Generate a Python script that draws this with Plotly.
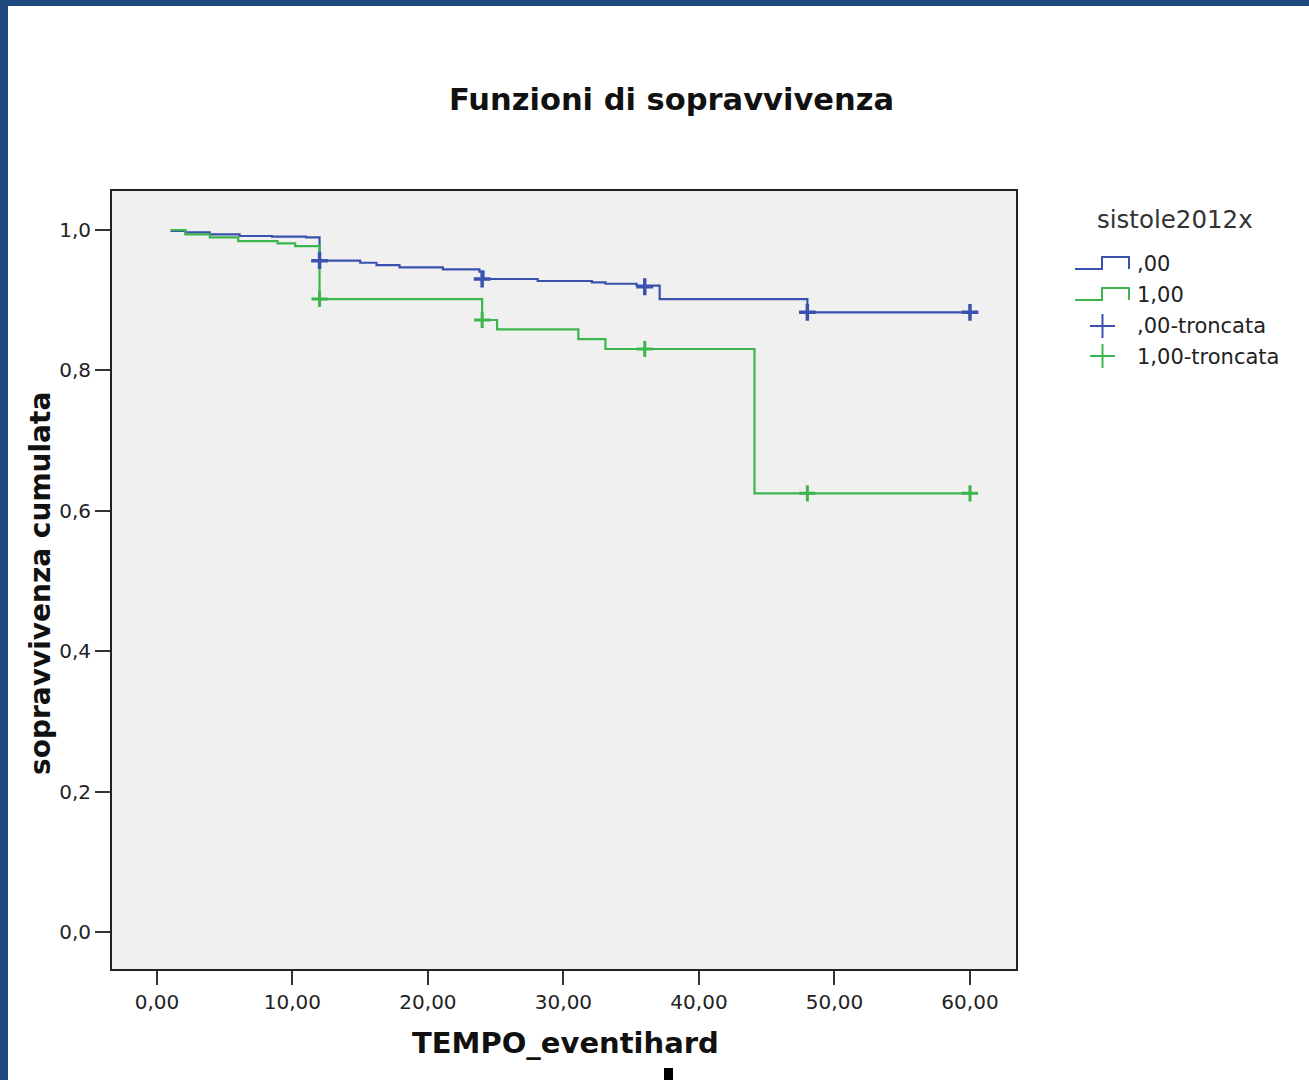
import plotly.graph_objects as go

# ---- data ----
blue_time = [1.0, 2.1, 3.9, 6.1, 8.5, 11.0, 12.0, 15.0, 16.2, 17.9, 21.1, 23.8, 24.1, 28.1, 32.1, 33.1, 35.4, 37.1, 48.0, 60.0]
blue_surv = [0.9986, 0.9967, 0.9939, 0.9915, 0.9905, 0.9896, 0.9563, 0.9534, 0.9501, 0.9469, 0.9440, 0.9406, 0.9302, 0.9274, 0.9255, 0.9235, 0.9207, 0.9017, 0.8828, 0.8828]

green_time = [1.0, 2.1, 3.9, 6.0, 8.9, 10.2, 12.0, 24.0, 25.1, 31.1, 33.1, 44.1, 60.0]
green_surv = [1.0, 0.9939, 0.9896, 0.9843, 0.9811, 0.9772, 0.9017, 0.8718, 0.8585, 0.8447, 0.8305, 0.6249, 0.6249]

blue_cens_time = [12.0, 24.0, 36.0, 48.0, 60.0]
blue_cens_surv = [0.9563, 0.9302, 0.9192, 0.8828, 0.8828]
green_cens_time = [12.0, 24.0, 36.0, 48.0, 60.0]
green_cens_surv = [0.9017, 0.8718, 0.8305, 0.6249, 0.6249]

x_ticks = [0, 10, 20, 30, 40, 50, 60]
x_ticklabels = ["0,00", "10,00", "20,00", "30,00", "40,00", "50,00", "60,00"]
y_ticks = [0.0, 0.2, 0.4, 0.6, 0.8, 1.0]
y_ticklabels = ["0,0", "0,2", "0,4", "0,6", "0,8", "1,0"]

legend_title = "sistole2012x"
legend_labels = [",00", "1,00", ",00-troncata", "1,00-troncata"]

BLUE = "#3a52ad"
GREEN = "#3cb64c"
W, H = 1309, 1080
L, R, T, B = 111, 1017, 190, 970  # plot area in pixels


def px(x):
    return (x - L) / (R - L)


def py(y):
    return (B - y) / (B - T)


fig = go.Figure()
fig.add_trace(go.Scatter(x=blue_time, y=blue_surv, mode="lines", line=dict(color=BLUE, width=2.2, shape="hv"),
                         showlegend=False, hoverinfo="skip"))
fig.add_trace(go.Scatter(x=green_time, y=green_surv, mode="lines", line=dict(color=GREEN, width=2.2, shape="hv"),
                         showlegend=False, hoverinfo="skip"))
fig.add_trace(go.Scatter(x=blue_cens_time, y=blue_cens_surv, mode="markers",
                         marker=dict(symbol="cross-thin", size=12, line=dict(color=BLUE, width=3.5)),
                         showlegend=False, hoverinfo="skip"))
fig.add_trace(go.Scatter(x=green_cens_time, y=green_cens_surv, mode="markers",
                         marker=dict(symbol="cross-thin", size=11.5, line=dict(color=GREEN, width=3)),
                         showlegend=False, hoverinfo="skip"))

shapes = []
# outer blue frame
shapes.append(dict(type="rect", xref="paper", yref="paper", x0=px(0), x1=px(W), y0=py(0), y1=py(6),
                   fillcolor="#1f497d", line=dict(width=0), layer="above"))
shapes.append(dict(type="rect", xref="paper", yref="paper", x0=px(0), x1=px(8), y0=py(0), y1=py(H),
                   fillcolor="#1f497d", line=dict(width=0), layer="above"))
# small black mark at bottom
shapes.append(dict(type="rect", xref="paper", yref="paper", x0=px(664), x1=px(673), y0=py(1068), y1=py(H),
                   fillcolor="black", line=dict(width=0), layer="above"))
# plot frame
shapes.append(dict(type="rect", xref="paper", yref="paper", x0=0, x1=1, y0=0, y1=1,
                   line=dict(color="#222222", width=2), layer="above"))

# legend icons (step lines)
for col, yl, yh in [(BLUE, 269, 257), (GREEN, 300, 288)]:
    path = "M {},{} L {},{} L {},{} L {},{} L {},{}".format(
        px(1075), py(yl), px(1102), py(yl), px(1102), py(yh), px(1129), py(yh), px(1129), py(yl))
    shapes.append(dict(type="path", xref="paper", yref="paper", path=path, line=dict(color=col, width=2)))
# legend plus markers
for col, yc in [(BLUE, 326), (GREEN, 356)]:
    shapes.append(dict(type="line", xref="paper", yref="paper", x0=px(1090), x1=px(1115), y0=py(yc), y1=py(yc),
                       line=dict(color=col, width=2)))
    shapes.append(dict(type="line", xref="paper", yref="paper", x0=px(1102.5), x1=px(1102.5), y0=py(yc - 12), y1=py(yc + 12),
                       line=dict(color=col, width=2)))

annotations = []
annotations.append(dict(text="Funzioni di sopravvivenza", xref="paper", yref="paper", x=px(671), y=py(100),
                        xanchor="center", yanchor="middle", showarrow=False,
                        font=dict(family="DejaVu Sans", size=30.5, color="#111111", weight="bold")))
annotations.append(dict(text="TEMPO_eventihard", xref="paper", yref="paper", x=px(565), y=py(1043),
                        xanchor="center", yanchor="middle", showarrow=False,
                        font=dict(family="DejaVu Sans", size=29, color="#111111", weight="bold")))
annotations.append(dict(text="sopravvivenza cumulata", xref="paper", yref="paper", x=px(40), y=py(584),
                        xanchor="center", yanchor="middle", showarrow=False, textangle=-90,
                        font=dict(family="DejaVu Sans", size=28, color="#111111", weight="bold")))
annotations.append(dict(text=legend_title, xref="paper", yref="paper", x=px(1175), y=py(220),
                        xanchor="center", yanchor="middle", showarrow=False,
                        font=dict(family="DejaVu Sans", size=24.5, color="#333333")))
for lab, yc in zip(legend_labels, [264, 295, 326, 357]):
    annotations.append(dict(text=lab, xref="paper", yref="paper", x=px(1135), y=py(yc),
                            xanchor="left", yanchor="middle", showarrow=False,
                            font=dict(family="DejaVu Sans", size=21, color="#222222")))

fig.update_layout(
    width=W, height=H,
    margin=dict(l=L, r=W - R, t=T, b=H - B, pad=0),
    paper_bgcolor="white",
    plot_bgcolor="#f0f0f0",
    showlegend=False,
    shapes=shapes,
    annotations=annotations,
    xaxis=dict(range=[-3.39, 63.47], tickvals=x_ticks, ticktext=x_ticklabels, ticks="outside", ticklen=14,
               tickwidth=2, tickcolor="#333333", showgrid=False, zeroline=False, showline=False,
               tickfont=dict(family="DejaVu Sans", size=20, color="#222222"), fixedrange=True),
    yaxis=dict(range=[-0.054, 1.057], tickvals=y_ticks, ticktext=y_ticklabels, ticks="outside", ticklen=15,
               tickwidth=2, tickcolor="#333333", showgrid=False, zeroline=False, showline=False,
               tickfont=dict(family="DejaVu Sans", size=20, color="#222222"), fixedrange=True),
)

fig.write_html("out.html")
